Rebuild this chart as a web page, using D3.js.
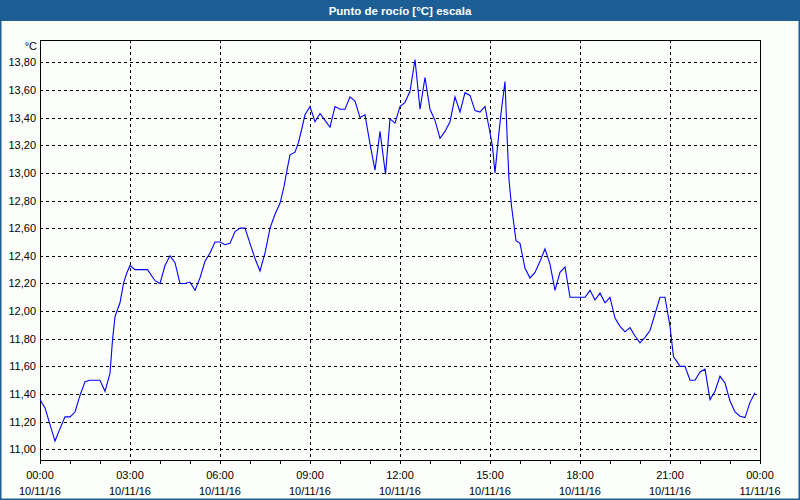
<!DOCTYPE html>
<html>
<head>
<meta charset="utf-8">
<script src="https://cdn.jsdelivr.net/npm/d3@7"></script>
<style>
  html, body { margin: 0; padding: 0; background: #fcfefc; }
  svg { display: block; }
  text { font-family: "Liberation Sans", Arial, sans-serif; }
</style>
</head>
<body>
<svg id="chart" width="800" height="500"></svg>
<script>
// ---- Data ----
const title = "Punto de rocío [°C] escala";
const unitLabel = "°C";
const times = ["00:00","00:10","00:30","00:40","00:50","01:00","01:10","01:20","01:30","01:40","02:00","02:10","02:20","02:25","02:30","02:40","02:47","02:53","03:00","03:10","03:20","03:35","03:50","04:00","04:10","04:20","04:30","04:40","04:50","05:00","05:10","05:20","05:30","05:40","05:50","06:00","06:10","06:20","06:30","06:40","06:50","07:00","07:10","07:20","07:30","07:40","07:50","08:00","08:08","08:14","08:20","08:30","08:37","08:43","08:50","09:00","09:10","09:20","09:30","09:40","09:50","10:00","10:10","10:20","10:30","10:40","10:50","11:00","11:10","11:20","11:31","11:40","11:50","12:00","12:10","12:20","12:30","12:40","12:50","13:00","13:10","13:20","13:30","13:40","13:50","14:00","14:10","14:20","14:30","14:40","14:50","15:00","15:05","15:10","15:17","15:23","15:30","15:35","15:38","15:43","15:48","15:52","16:00","16:10","16:20","16:30","16:40","16:50","17:00","17:10","17:20","17:30","17:40","17:50","18:10","18:20","18:30","18:40","18:50","19:00","19:10","19:20","19:30","19:40","19:50","20:00","20:10","20:20","20:30","20:40","20:50","21:00","21:07","21:13","21:20","21:30","21:40","21:50","22:00","22:10","22:20","22:30","22:40","22:50","23:00","23:10","23:20","23:30","23:40","23:50"];
const values = [11.36,11.30,11.06,11.15,11.235,11.235,11.27,11.39,11.49,11.50,11.50,11.42,11.55,11.79,11.96,12.06,12.20,12.27,12.33,12.30,12.30,12.30,12.22,12.20,12.33,12.40,12.35,12.20,12.20,12.21,12.15,12.24,12.36,12.42,12.50,12.50,12.48,12.49,12.575,12.60,12.60,12.49,12.38,12.29,12.42,12.60,12.70,12.78,12.90,13.02,13.13,13.15,13.22,13.31,13.42,13.48,13.37,13.43,13.38,13.33,13.48,13.46,13.46,13.55,13.52,13.40,13.42,13.21,13.02,13.30,12.99,13.39,13.36,13.48,13.51,13.59,13.82,13.46,13.69,13.46,13.38,13.25,13.30,13.37,13.55,13.44,13.58,13.56,13.45,13.44,13.48,13.29,13.19,13.00,13.26,13.46,13.66,13.19,12.95,12.76,12.62,12.51,12.49,12.31,12.24,12.28,12.36,12.45,12.34,12.15,12.28,12.32,12.10,12.10,12.10,12.15,12.08,12.13,12.06,12.10,11.95,11.89,11.85,11.88,11.82,11.77,11.81,11.86,11.98,12.10,12.10,11.89,11.67,11.64,11.60,11.60,11.50,11.50,11.56,11.58,11.36,11.42,11.53,11.48,11.35,11.27,11.24,11.23,11.34,11.41];
const yTicks = [11.0,11.2,11.4,11.6,11.8,12.0,12.2,12.4,12.6,12.8,13.0,13.2,13.4,13.6,13.8];
const xTickMinutes = [0,180,360,540,720,900,1080,1260,1440];
const xTickTimes = ["00:00","03:00","06:00","09:00","12:00","15:00","18:00","21:00","00:00"];
const xTickDates = ["10/11/16","10/11/16","10/11/16","10/11/16","10/11/16","10/11/16","10/11/16","10/11/16","11/11/16"];

(function () {
// ---- Layout ----
const W = 800, H = 500;
const pL = 40, pR = 760, pT = 40, pB = 460;
const svg = d3.select("#chart");

const toMin = s => { const [h, m] = s.split(":").map(Number); return h * 60 + m; };
const data = times.map((t, i) => ({ t: toMin(t), v: values[i] }));

const x = d3.scaleLinear().domain([0, 1440]).range([pL, pR]);
const y = d3.scaleLinear().domain([10.923, 13.961]).range([pB, pT]);

// background
svg.append("rect").attr("x", 0).attr("y", 0).attr("width", W).attr("height", H).attr("fill", "#fcfefc");

// title bar
svg.append("rect").attr("x", 0).attr("y", 0).attr("width", W).attr("height", 21).attr("fill", "#1d5e95");
svg.append("text").attr("x", W / 2).attr("y", 14.5).attr("text-anchor", "middle")
  .attr("fill", "#ffffff").attr("font-weight", "bold").attr("font-size", "11.5px").text(title);

// window border
svg.append("rect").attr("x", 0.75).attr("y", 0).attr("width", W - 1.5).attr("height", H - 0.75)
  .attr("fill", "none").attr("stroke", "#1d5e95").attr("stroke-width", 1.5);

// grid
const grid = svg.append("g").attr("stroke", "#000").attr("stroke-width", 1)
  .attr("stroke-dasharray", "3,3").attr("shape-rendering", "crispEdges");
grid.selectAll("line.h").data(yTicks).join("line").attr("class", "h")
  .attr("x1", pL).attr("x2", pR)
  .attr("y1", d => Math.round(y(d)) + 0.5).attr("y2", d => Math.round(y(d)) + 0.5);
grid.selectAll("line.v").data(xTickMinutes.slice(1, -1)).join("line").attr("class", "v")
  .attr("y1", pT).attr("y2", pB)
  .attr("x1", d => Math.round(x(d)) + 0.5).attr("x2", d => Math.round(x(d)) + 0.5);

// x axis minor ticks (hourly)
const xAxis = d3.axisBottom(x).tickValues(d3.range(0, 1441, 60)).tickSize(4).tickFormat("");
const gx = svg.append("g").attr("transform", `translate(0,${pB})`).call(xAxis);
gx.select(".domain").remove();
gx.selectAll("line").attr("stroke", "#000").attr("shape-rendering", "crispEdges");

// x labels
const xl = svg.append("g").attr("font-size", "11px").attr("fill", "#000").attr("text-anchor", "middle");
xl.selectAll("text.t").data(xTickMinutes).join("text").attr("class", "t")
  .attr("x", d => x(d)).attr("y", 479).text((d, i) => xTickTimes[i]);
xl.selectAll("text.d").data(xTickMinutes).join("text").attr("class", "d")
  .attr("x", d => x(d)).attr("y", 495).text((d, i) => xTickDates[i]);

// y axis labels
const fmt = d => d.toFixed(2).replace(".", ",");
const yAxis = d3.axisLeft(y).tickValues(yTicks).tickSize(0).tickPadding(4).tickFormat(fmt);
const gy = svg.append("g").attr("transform", `translate(${pL},0)`).call(yAxis);
gy.select(".domain").remove();
gy.selectAll("text").attr("font-size", "11px").attr("fill", "#000")
  .attr("font-family", "'Liberation Sans', Arial, sans-serif");

svg.append("text").attr("x", 37).attr("y", 50).attr("text-anchor", "end")
  .attr("font-size", "11px").attr("fill", "#000").text(unitLabel);

// plot frame
svg.append("rect").attr("x", pL + 0.5).attr("y", pT + 0.5)
  .attr("width", pR - pL).attr("height", pB - pT)
  .attr("fill", "none").attr("stroke", "#000").attr("stroke-width", 1).attr("shape-rendering", "crispEdges");

// line
const line = d3.line().x(d => x(d.t)).y(d => y(d.v));
svg.append("path").datum(data).attr("d", line)
  .attr("fill", "none").attr("stroke", "#0000ff").attr("stroke-width", 1.1);
})();
</script>
</body>
</html>
